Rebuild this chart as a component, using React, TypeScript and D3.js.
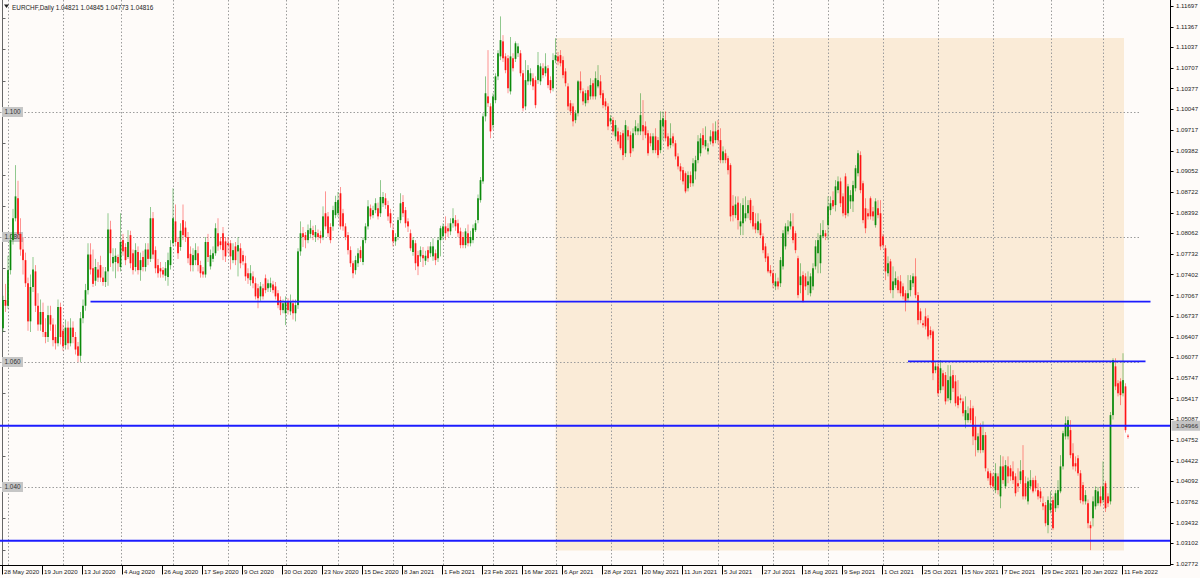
import React, { useEffect, useRef } from 'react'
import * as d3 from 'd3'

// EURCHF daily candles, prices kept as pips above 1.0000 (e.g. 699 = 1.0699)
const symbolName = 'EURCHF,Daily'
const lastBarQuote = ['1.04821', '1.04845', '1.04773', '1.04816']

const opens = [
  654, 699, 690, 747, 795, 830, 862, 805, 780, 763, 726, 665, 720, 745, 690, 660, 680, 648, 640, 675,
  660, 640, 630, 688, 650, 627, 655, 630, 655, 640, 625, 610, 670, 690, 715, 772, 750, 730, 748, 755,
  735, 728, 745, 812, 758, 760, 768, 752, 795, 784, 768, 803, 774, 752, 776, 747, 768, 752, 780, 765,
  830, 779, 755, 750, 747, 738, 736, 755, 790, 825, 792, 784, 827, 815, 800, 773, 755, 763, 774, 755,
  745, 740, 792, 753, 765, 774, 806, 793, 806, 793, 790, 790, 763, 785, 777, 782, 771, 758, 742, 731,
  737, 726, 718, 705, 718, 734, 718, 719, 724, 721, 710, 699, 683, 678, 697, 681, 694, 678, 691, 777,
  806, 803, 795, 805, 811, 800, 806, 803, 800, 838, 833, 816, 817, 835, 838, 870, 838, 817, 803, 779,
  758, 747, 758, 779, 760, 795, 817, 846, 835, 843, 846, 838, 854, 862, 851, 838, 811, 793, 800, 827,
  856, 843, 825, 806, 776, 790, 771, 769, 771, 762, 779, 774, 769, 774, 766, 795, 801, 817, 814, 809,
  822, 827, 822, 809, 800, 787, 806, 790, 795, 811, 827, 859, 889, 993, 1025, 1009, 979, 1019, 1057, 1089,
  1113, 1089, 1086, 1033, 1086, 1085, 1094, 1094, 1062, 1009, 1049, 1049, 1054, 1051, 1051, 1049, 1070, 1062, 1070, 1051,
  1038, 1083, 1089, 1091, 1083, 1065, 1041, 1014, 1009, 987, 998, 1049, 1033, 1014, 1035, 1025, 1046, 1025, 1041, 1049,
  1030, 1017, 1009, 985, 987, 961, 969, 963, 966, 934, 971, 963, 942, 969, 969, 969, 979, 977, 966, 961,
  939, 961, 955, 939, 977, 987, 961, 947, 961, 950, 929, 913, 907, 902, 878, 899, 886, 905, 923, 934,
  963, 945, 937, 953, 969, 955, 971, 955, 923, 934, 926, 915, 850, 835, 855, 817, 822, 830, 838, 859,
  840, 822, 811, 822, 801, 785, 769, 747, 742, 721, 729, 726, 753, 785, 809, 817, 817, 806, 766, 723,
  739, 737, 723, 710, 721, 753, 774, 758, 801, 806, 819, 843, 859, 851, 875, 889, 865, 897, 838, 857,
  857, 878, 902, 931, 886, 846, 838, 862, 841, 819, 846, 838, 801, 782, 742, 761, 715, 723, 731, 729,
  721, 710, 702, 715, 726, 737, 707, 681, 662, 673, 670, 651, 649, 587, 593, 555, 582, 579, 542, 539,
  579, 569, 545, 542, 537, 507, 507, 526, 526, 497, 459, 497, 459, 483, 425, 422, 417, 395, 417, 385,
  433, 401, 433, 430, 425, 417, 406, 411, 427, 406, 377, 401, 411, 411, 395, 393, 374, 371, 339, 363,
  379, 366, 371, 393, 433, 481, 481, 491, 454, 438, 446, 422, 403, 377, 374, 339, 350, 369, 374, 385,
  379, 406, 385, 377, 515, 593, 566, 569, 550, 561, 482.1,
]

const highs = [
  706, 725, 770, 805, 845, 915, 890, 830, 800, 775, 735, 740, 768, 755, 710, 700, 695, 670, 690, 690,
  670, 660, 700, 695, 660, 668, 665, 670, 665, 648, 632, 680, 700, 725, 790, 790, 780, 765, 760, 770,
  752, 752, 838, 826, 782, 782, 772, 838, 805, 790, 811, 810, 780, 790, 785, 775, 778, 790, 790, 848,
  840, 785, 765, 760, 752, 760, 775, 795, 878, 852, 800, 822, 852, 825, 808, 785, 782, 790, 785, 762,
  752, 800, 805, 780, 785, 822, 830, 800, 816, 800, 800, 795, 790, 792, 800, 790, 778, 770, 750, 755,
  745, 735, 725, 728, 725, 740, 732, 735, 730, 728, 715, 705, 700, 705, 702, 708, 700, 700, 782, 825,
  816, 808, 820, 827, 818, 819, 812, 810, 849, 873, 840, 822, 850, 866, 872, 880, 845, 822, 808, 785,
  762, 770, 782, 785, 800, 822, 859, 852, 850, 862, 855, 891, 872, 870, 858, 845, 822, 806, 832, 870,
  867, 848, 830, 812, 800, 795, 778, 785, 784, 778, 785, 792, 798, 780, 800, 818, 822, 833, 822, 830,
  846, 835, 828, 815, 808, 814, 820, 810, 820, 827, 868, 896, 998, 1057, 1099, 1014, 1030, 1062, 1099, 1153,
  1123, 1094, 1091, 1120, 1094, 1113, 1110, 1099, 1067, 1083, 1075, 1070, 1062, 1057, 1096, 1078, 1078, 1094, 1075, 1057,
  1094, 1118, 1096, 1099, 1089, 1070, 1046, 1019, 1014, 1003, 1051, 1065, 1038, 1035, 1041, 1054, 1051, 1065, 1075, 1059,
  1035, 1022, 1014, 995, 992, 987, 975, 968, 971, 987, 977, 969, 974, 987, 982, 1030, 1019, 985, 971, 966,
  966, 974, 960, 1001, 1001, 1001, 966, 982, 966, 955, 934, 918, 912, 905, 905, 905, 926, 930, 963, 966,
  974, 977, 950, 971, 982, 985, 987, 974, 945, 940, 930, 918, 867, 865, 865, 854, 862, 865, 859, 862,
  850, 838, 838, 828, 806, 790, 774, 755, 747, 742, 735, 768, 811, 822, 827, 838, 838, 810, 770, 758,
  745, 742, 745, 742, 758, 795, 806, 822, 827, 811, 865, 865, 873, 891, 897, 895, 870, 902, 885, 875,
  890, 915, 939, 937, 890, 862, 845, 865, 848, 862, 859, 859, 805, 787, 769, 765, 753, 745, 737, 739,
  726, 715, 739, 739, 742, 766, 712, 686, 667, 686, 675, 657, 652, 598, 603, 603, 587, 584, 595, 595,
  587, 579, 571, 548, 542, 545, 529, 539, 530, 513, 486, 502, 505, 488, 430, 426, 422, 438, 422, 451,
  449, 443, 449, 435, 441, 422, 430, 443, 467, 417, 415, 427, 415, 418, 406, 398, 385, 376, 385, 393,
  385, 395, 411, 451, 490, 513, 513, 507, 470, 449, 451, 427, 408, 395, 380, 345, 385, 401, 400, 401,
  441, 410, 390, 520, 606, 606, 571, 574, 614, 566, 484.5,
]

const lows = [
  648, 680, 685, 740, 788, 825, 798, 770, 740, 720, 650, 648, 712, 680, 650, 650, 640, 630, 632, 650,
  625, 620, 625, 628, 618, 620, 620, 625, 630, 612, 600, 600, 662, 682, 708, 740, 720, 722, 728, 728,
  722, 720, 722, 752, 745, 734, 745, 745, 770, 755, 765, 750, 740, 745, 740, 730, 745, 745, 755, 760,
  765, 742, 735, 735, 735, 730, 722, 748, 785, 785, 765, 778, 795, 792, 758, 745, 745, 755, 745, 735,
  735, 735, 760, 748, 760, 770, 778, 780, 763, 760, 775, 748, 758, 755, 737, 750, 755, 730, 725, 722,
  718, 700, 686, 698, 700, 710, 712, 712, 710, 700, 686, 675, 678, 659, 676, 675, 668, 665, 685, 770,
  784, 782, 790, 798, 795, 792, 795, 790, 795, 812, 800, 790, 810, 830, 832, 812, 810, 795, 772, 752,
  734, 740, 752, 760, 755, 790, 812, 828, 830, 838, 828, 832, 848, 845, 826, 815, 785, 786, 795, 822,
  832, 815, 808, 778, 770, 747, 739, 760, 752, 755, 760, 768, 762, 755, 760, 769, 795, 795, 800, 803,
  815, 810, 800, 782, 782, 782, 785, 785, 790, 808, 822, 855, 885, 985, 1008, 958, 972, 1014, 1051, 1083,
  1080, 1062, 1030, 1028, 1065, 1080, 1088, 1057, 1001, 1003, 1043, 1043, 1035, 1006, 1045, 1043, 1054, 1057, 1038, 1030,
  1033, 1078, 1075, 1073, 1054, 1041, 1003, 995, 977, 982, 993, 1030, 1011, 1009, 1014, 1020, 1020, 1020, 1038, 1022,
  1006, 1003, 971, 980, 963, 955, 948, 939, 923, 928, 955, 928, 937, 963, 963, 963, 955, 958, 930, 945,
  934, 934, 926, 934, 955, 953, 940, 942, 945, 924, 908, 891, 884, 870, 873, 880, 881, 892, 918, 929,
  942, 940, 932, 948, 945, 950, 948, 918, 918, 918, 900, 825, 825, 830, 812, 803, 803, 825, 830, 822,
  812, 806, 806, 798, 774, 760, 742, 737, 718, 715, 716, 720, 748, 780, 804, 812, 790, 774, 702, 710,
  695, 715, 707, 705, 715, 748, 742, 742, 798, 795, 795, 835, 845, 841, 870, 848, 833, 830, 833, 845,
  840, 873, 897, 870, 822, 806, 828, 828, 826, 815, 830, 779, 782, 731, 737, 710, 702, 718, 710, 705,
  700, 681, 697, 705, 720, 702, 660, 662, 655, 652, 636, 638, 571, 582, 545, 550, 555, 532, 537, 534,
  552, 529, 526, 534, 513, 494, 503, 502, 467, 449, 455, 454, 455, 425, 410, 398, 396, 390, 388, 366,
  405, 397, 406, 410, 405, 385, 392, 405, 380, 380, 372, 396, 390, 393, 380, 376, 363, 337, 326, 358,
  331, 360, 366, 390, 428, 476, 476, 446, 428, 425, 418, 374, 372, 372, 334, 299, 337, 364, 370, 369,
  374, 360, 368, 372, 508, 555, 545, 531, 545, 487, 477.3,
]

const closes = [
  699, 690, 747, 795, 830, 865, 805, 780, 763, 726, 665, 720, 748, 690, 660, 680, 648, 640, 675, 660,
  635, 630, 688, 640, 625, 655, 630, 655, 640, 620, 610, 670, 690, 715, 772, 748, 725, 752, 735, 735,
  728, 745, 812, 774, 768, 770, 758, 792, 777, 763, 792, 758, 747, 779, 747, 763, 752, 780, 765, 830,
  772, 750, 742, 745, 740, 750, 763, 784, 830, 792, 774, 810, 803, 800, 766, 755, 771, 779, 755, 742,
  740, 792, 768, 771, 774, 814, 785, 787, 779, 769, 787, 769, 779, 763, 787, 758, 761, 737, 734, 742,
  726, 705, 702, 721, 705, 715, 726, 726, 715, 705, 691, 683, 694, 697, 683, 697, 678, 691, 777, 806,
  800, 795, 811, 814, 803, 808, 800, 798, 833, 817, 806, 795, 843, 856, 859, 817, 817, 800, 779, 758,
  742, 763, 774, 766, 795, 817, 849, 833, 843, 854, 833, 864, 864, 851, 833, 822, 793, 800, 827, 854,
  838, 822, 817, 782, 795, 758, 753, 779, 766, 770, 766, 785, 785, 763, 795, 814, 817, 806, 809, 822,
  830, 817, 806, 787, 787, 809, 790, 800, 814, 822, 862, 891, 993, 1030, 1014, 969, 1025, 1057, 1094, 1115,
  1086, 1067, 1038, 1089, 1070, 1110, 1105, 1062, 1006, 1051, 1067, 1062, 1041, 1011, 1075, 1073, 1059, 1073, 1043, 1035,
  1083, 1091, 1081, 1078, 1059, 1046, 1009, 1001, 985, 998, 1049, 1035, 1017, 1030, 1019, 1043, 1025, 1054, 1051, 1027,
  1011, 1009, 977, 990, 969, 979, 953, 942, 931, 979, 961, 934, 966, 977, 974, 995, 969, 963, 934, 950,
  961, 939, 931, 987, 990, 958, 945, 958, 950, 929, 913, 905, 889, 873, 899, 886, 918, 923, 953, 958,
  947, 955, 942, 961, 950, 969, 955, 923, 937, 923, 907, 833, 835, 852, 827, 825, 851, 838, 851, 827,
  817, 812, 825, 803, 779, 766, 745, 742, 726, 729, 721, 763, 806, 817, 817, 825, 795, 779, 707, 737,
  697, 721, 729, 737, 750, 785, 795, 803, 811, 801, 849, 854, 849, 881, 889, 854, 838, 835, 881, 867,
  883, 910, 934, 875, 827, 814, 833, 833, 833, 857, 835, 785, 787, 745, 758, 715, 729, 734, 715, 710,
  705, 697, 710, 731, 737, 707, 667, 667, 659, 657, 641, 643, 582, 593, 550, 590, 561, 537, 571, 577,
  558, 534, 531, 539, 518, 523, 518, 507, 481, 475, 481, 459, 483, 430, 414, 403, 401, 422, 395, 433,
  411, 435, 417, 417, 411, 390, 401, 425, 385, 385, 409, 411, 393, 398, 385, 382, 369, 342, 379, 374,
  334, 390, 395, 433, 486, 502, 507, 451, 433, 433, 422, 379, 377, 387, 342, 334, 377, 395, 393, 374,
  401, 366, 374, 515, 603, 561, 550, 547, 571, 491, 481.6,
]

// bar calendar: weekdays, two closed holidays, extra Sunday sessions around DST shifts
const firstBarDay = '2020-05-28'
const closedDays = ['2020-12-25', '2021-01-01']
const sundaySessions = ['2020-10-25', '2021-03-14', '2021-03-28', '2021-10-31']

const dateLabels = [
  '28 May 2020', '19 Jun 2020', '13 Jul 2020', '4 Aug 2020', '26 Aug 2020', '17 Sep 2020', '9 Oct 2020',
  '30 Oct 2020', '23 Nov 2020', '15 Dec 2020', '8 Jan 2021', '1 Feb 2021', '23 Feb 2021', '16 Mar 2021',
  '6 Apr 2021', '28 Apr 2021', '20 May 2021', '11 Jun 2021', '5 Jul 2021', '27 Jul 2021', '18 Aug 2021',
  '9 Sep 2021', '1 Oct 2021', '25 Oct 2021', '15 Nov 2021', '7 Dec 2021', '29 Dec 2021', '20 Jan 2022',
  '11 Feb 2022',
]

const priceLabels = [
  '1.11697', '1.11367', '1.11037', '1.10707', '1.10377', '1.10047', '1.09717', '1.09382', '1.09052',
  '1.08722', '1.08392', '1.08062', '1.07732', '1.07402', '1.07067', '1.06737', '1.06407', '1.06077',
  '1.05747', '1.05417', '1.05087', '1.04752', '1.04422', '1.04092', '1.03762', '1.03432', '1.03102',
  '1.02772',
]

const roundLevels = [1.1, 1.08, 1.06, 1.04]
const roundLevelLabels = ['1.100', '1.080', '1.060', '1.040']

// chart objects (bar index / price)
const zone = { fromBar: 221, toBar: 448, top: 1.11184, bottom: 1.02984 }
const trendLines = [
  { fromBar: 35, toBar: 459, price: 1.06965 },
  { fromBar: 362, toBar: 457, price: 1.0601 },
]
const horizontalLines = [
  { price: 1.0498, label: '1.04966' },
  { price: 1.0314, label: '' },
]

const WIDTH = 1200
const HEIGHT = 578
const PLOT_RIGHT = 1170.5
const PLOT_BOTTOM = 565.5
const BAR_STEP = 2.5
const FONT = '"Liberation Sans", Arial, sans-serif'
const FONT_SIZE = 6.1
const UP = '#0b8a0b'
const DOWN = '#ff1414'
const LINE_BLUE = '#1c1cff'

const App: React.FC = () => {
  const svgRef = useRef<SVGSVGElement>(null)

  useEffect(() => {
    if (!svgRef.current) return
    const svg = d3.select(svgRef.current)
    svg.selectAll('*').remove()

    const n = closes.length
    const price = (v: number) => 1 + v / 10000

    const x = d3.scaleLinear().domain([0, 1]).range([3, 3 + BAR_STEP])
    const y = d3.scaleLinear().domain([1.04, 1.1]).range([487, 112])
    const crisp = (v: number) => Math.round(v) + 0.5

    // build the bar calendar
    const dayKey = d3.timeFormat('%Y-%m-%d')
    const barDates: Date[] = []
    let day = d3.timeParse('%Y-%m-%d')(firstBarDay) as Date
    while (barDates.length < n) {
      const key = dayKey(day)
      const wd = day.getDay()
      if ((wd > 0 && wd < 6 && !closedDays.includes(key)) || sundaySessions.includes(key)) barDates.push(day)
      day = d3.timeDay.offset(day, 1)
    }
    const monthStarts = barDates
      .map((d, i) => (i > 0 && d.getMonth() !== barDates[i - 1].getMonth() ? i : -1))
      .filter((i) => i >= 0)
    const labelFmt = d3.timeFormat('%-d %b %Y')
    const labelBars = dateLabels.map((l) => barDates.findIndex((d) => labelFmt(d) === l))

    // background
    svg.append('rect').attr('width', WIDTH).attr('height', HEIGHT).attr('fill', '#fefbf9')

    // shaded zone
    svg
      .append('rect')
      .attr('x', x(zone.fromBar))
      .attr('y', y(zone.top))
      .attr('width', x(zone.toBar) + 1 - x(zone.fromBar))
      .attr('height', y(zone.bottom) - y(zone.top))
      .attr('fill', '#faebd7')

    // month grid
    svg
      .append('g')
      .selectAll('line')
      .data(monthStarts)
      .join('line')
      .attr('x1', (i) => crisp(x(i)))
      .attr('x2', (i) => crisp(x(i)))
      .attr('y1', 0)
      .attr('y2', PLOT_BOTTOM)
      .attr('stroke', '#9c9c9c')
      .attr('stroke-dasharray', '1.5,2')

    // round level grid
    svg
      .append('g')
      .selectAll('line')
      .data(roundLevels)
      .join('line')
      .attr('x1', 0)
      .attr('x2', x(455))
      .attr('y1', (d) => crisp(y(d)))
      .attr('y2', (d) => crisp(y(d)))
      .attr('stroke', '#9c9c9c')
      .attr('stroke-dasharray', '1.5,2')

    // left edge scale
    svg.append('line').attr('x1', 2.5).attr('x2', 2.5).attr('y1', 0).attr('y2', PLOT_BOTTOM).attr('stroke', '#666')
    svg
      .append('g')
      .selectAll('line')
      .data(d3.range(1.03, 1.116, 0.005))
      .join('line')
      .attr('x1', 2.5)
      .attr('x2', 5.5)
      .attr('y1', (d) => crisp(y(d)))
      .attr('y2', (d) => crisp(y(d)))
      .attr('stroke', '#666')

    const lvl = svg.append('g').selectAll('g').data(roundLevels).join('g')
    lvl
      .append('rect')
      .attr('x', 2)
      .attr('y', (d) => y(d) - 5)
      .attr('width', 21)
      .attr('height', 10)
      .attr('fill', '#c6c6c6')
    lvl
      .append('text')
      .attr('x', 4.5)
      .attr('y', (d) => y(d) + 2.2)
      .attr('font-family', FONT)
      .attr('font-size', FONT_SIZE + 0.3)
      .attr('fill', '#333')
      .text((_, i) => roundLevelLabels[i])

    // candles
    const bars = d3.range(n)
    const g = svg.append('g')
    g.selectAll('line.wick')
      .data(bars)
      .join('line')
      .attr('class', 'wick')
      .attr('x1', (i) => x(i))
      .attr('x2', (i) => x(i))
      .attr('y1', (i) => y(price(highs[i])))
      .attr('y2', (i) => y(price(lows[i])))
      .attr('stroke', (i) => (closes[i] >= opens[i] ? UP : DOWN))
      .attr('stroke-opacity', 0.45)
      .attr('stroke-width', 1)
    g.selectAll('rect.body')
      .data(bars)
      .join('rect')
      .attr('class', 'body')
      .attr('x', (i) => x(i) - 0.85)
      .attr('width', 1.7)
      .attr('y', (i) => y(price(Math.max(opens[i], closes[i]))))
      .attr('height', (i) => Math.max(1, Math.abs(y(price(opens[i])) - y(price(closes[i])))))
      .attr('fill', (i) => (closes[i] >= opens[i] ? UP : DOWN))

    // trend lines and horizontal lines
    svg
      .append('g')
      .selectAll('line')
      .data(trendLines)
      .join('line')
      .attr('x1', (d) => x(d.fromBar))
      .attr('x2', (d) => x(d.toBar))
      .attr('y1', (d) => y(d.price))
      .attr('y2', (d) => y(d.price))
      .attr('stroke', LINE_BLUE)
      .attr('stroke-width', 1.8)
    svg
      .append('g')
      .selectAll('line')
      .data(horizontalLines)
      .join('line')
      .attr('x1', 0)
      .attr('x2', PLOT_RIGHT)
      .attr('y1', (d) => y(d.price))
      .attr('y2', (d) => y(d.price))
      .attr('stroke', LINE_BLUE)
      .attr('stroke-width', 1.8)

    // price scale
    svg
      .append('line')
      .attr('x1', PLOT_RIGHT)
      .attr('x2', PLOT_RIGHT)
      .attr('y1', 0)
      .attr('y2', PLOT_BOTTOM)
      .attr('stroke', '#000')
    const pl = svg.append('g').selectAll('g').data(priceLabels).join('g')
    pl.append('line')
      .attr('x1', PLOT_RIGHT)
      .attr('x2', PLOT_RIGHT + 3)
      .attr('y1', (d) => crisp(y(+d)))
      .attr('y2', (d) => crisp(y(+d)))
      .attr('stroke', '#000')
    pl.append('text')
      .attr('x', PLOT_RIGHT + 5.5)
      .attr('y', (d) => y(+d) + 2.2)
      .attr('font-family', FONT)
      .attr('font-size', FONT_SIZE)
      .attr('fill', '#222')
      .text((d) => d)

    const hl = svg
      .append('g')
      .selectAll('g')
      .data(horizontalLines.filter((d) => d.label))
      .join('g')
    hl.append('rect')
      .attr('x', PLOT_RIGHT + 1)
      .attr('y', (d) => y(d.price) - 5)
      .attr('width', WIDTH - PLOT_RIGHT - 1)
      .attr('height', 10)
      .attr('fill', '#c4c4c4')
    hl.append('text')
      .attr('x', PLOT_RIGHT + 5.5)
      .attr('y', (d) => y(d.price) + 2.2)
      .attr('font-family', FONT)
      .attr('font-size', FONT_SIZE)
      .attr('fill', '#333')
      .text((d) => d.label)

    // time scale
    svg
      .append('line')
      .attr('x1', 0)
      .attr('x2', PLOT_RIGHT)
      .attr('y1', PLOT_BOTTOM)
      .attr('y2', PLOT_BOTTOM)
      .attr('stroke', '#000')
    const tl = svg
      .append('g')
      .selectAll('g')
      .data(dateLabels.map((label, k) => ({ label, bar: labelBars[k] })).filter((d) => d.bar >= 0))
      .join('g')
    tl.append('line')
      .attr('x1', (d) => crisp(x(d.bar)) - 1)
      .attr('x2', (d) => crisp(x(d.bar)) - 1)
      .attr('y1', PLOT_BOTTOM)
      .attr('y2', PLOT_BOTTOM + 9)
      .attr('stroke', '#000')
    tl.append('text')
      .attr('x', (d) => x(d.bar) + 1)
      .attr('y', PLOT_BOTTOM + 8)
      .attr('font-family', FONT)
      .attr('font-size', FONT_SIZE)
      .attr('fill', '#222')
      .text((d) => d.label)

    // header
    svg.append('path').attr('d', 'M4,4.5 L9,4.5 L6.5,8 Z').attr('fill', '#222')
    svg
      .append('text')
      .attr('x', 12)
      .attr('y', 9.5)
      .attr('font-family', FONT)
      .attr('font-size', FONT_SIZE + 0.3)
      .attr('fill', '#222')
      .text(`${symbolName} ${lastBarQuote.join(' ')}`)
  }, [])

  return (
    <div style={{ position: 'absolute', left: 0, top: 0, width: WIDTH, height: HEIGHT }}>
      <svg ref={svgRef} width={WIDTH} height={HEIGHT} style={{ display: 'block' }} />
    </div>
  )
}

export default App
